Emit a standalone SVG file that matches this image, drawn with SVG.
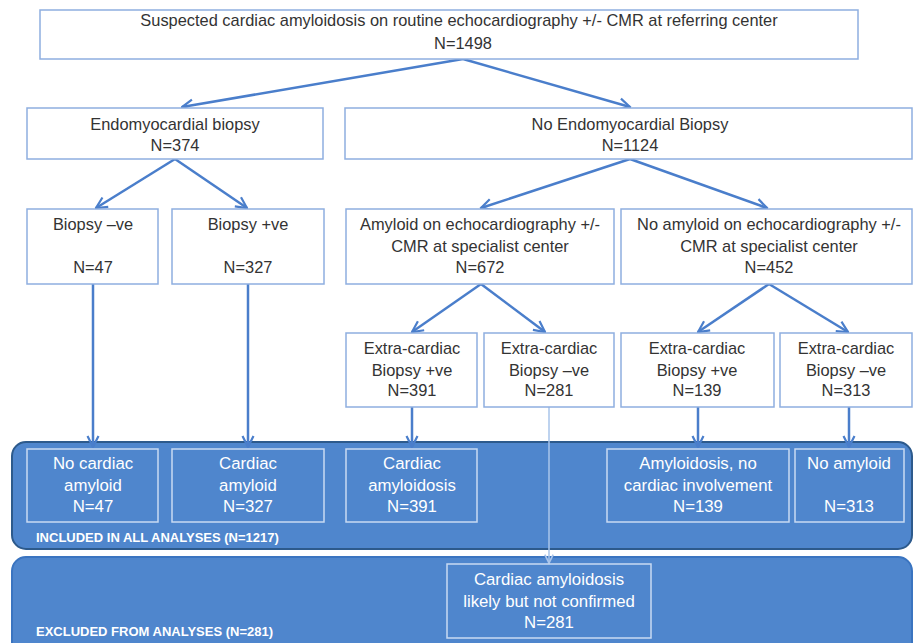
<svg xmlns="http://www.w3.org/2000/svg" width="914" height="643" viewBox="0 0 914 643">
<defs>
<style>
.box{fill:#fff;stroke:#8eaee0;stroke-width:1.5}
.ibox{fill:none;stroke:#c9daf2;stroke-width:1.5}
.t{font-family:"Liberation Sans",Arial,sans-serif;font-size:16.4px;fill:#333;text-anchor:middle}
.tw{font-family:"Liberation Sans",Arial,sans-serif;font-size:16.8px;fill:#fff;text-anchor:middle}
.lbl{font-family:"Liberation Sans",Arial,sans-serif;font-size:13px;font-weight:bold;fill:#fff}
.c{fill:none;stroke:#4a7ecb;stroke-width:2.5}
.cl{fill:none;stroke:#a9c4ea;stroke-width:1.5}
</style>
<marker id="ah" viewBox="0 0 10 10" refX="9" refY="5" markerWidth="5.5" markerHeight="5.5" orient="auto" markerUnits="strokeWidth">
<path d="M1,1 L9,5 L1,9" fill="none" stroke="#4a7ecb" stroke-width="1.6"/>
</marker>
<marker id="ahl" viewBox="0 0 10 10" refX="9" refY="5" markerWidth="7" markerHeight="7" orient="auto" markerUnits="strokeWidth">
<path d="M1,1 L9,5 L1,9" fill="none" stroke="#a9c4ea" stroke-width="1.6"/>
</marker>
</defs>
<rect width="914" height="643" fill="#fff"/>

<g id="band-included">
<rect x="12" y="442" width="900" height="107" rx="14" fill="#4f86cd" stroke="#2d5a8c" stroke-width="2"/>
<text class="lbl" x="36" y="542">INCLUDED IN ALL ANALYSES (N=1217)</text>
</g>
<g id="band-excluded">
<rect x="12" y="557" width="900" height="110" rx="14" fill="#4f86cd" stroke="#3a74c0" stroke-width="2"/>
<text class="lbl" x="36" y="636">EXCLUDED FROM ANALYSES (N=281)</text>
</g>

<g id="connectors">
<line class="c" x1="463" y1="59" x2="182" y2="107" marker-end="url(#ah)"/>
<line class="c" x1="463" y1="59" x2="630" y2="107" marker-end="url(#ah)"/>
<line class="c" x1="175" y1="159" x2="96" y2="208" marker-end="url(#ah)"/>
<line class="c" x1="175" y1="159" x2="247" y2="208" marker-end="url(#ah)"/>
<line class="c" x1="630" y1="159" x2="481" y2="208" marker-end="url(#ah)"/>
<line class="c" x1="630" y1="159" x2="767" y2="208" marker-end="url(#ah)"/>
<line class="c" x1="481" y1="284" x2="412" y2="332" marker-end="url(#ah)"/>
<line class="c" x1="481" y1="284" x2="545" y2="332" marker-end="url(#ah)"/>
<line class="c" x1="769" y1="284" x2="698" y2="332" marker-end="url(#ah)"/>
<line class="c" x1="769" y1="284" x2="848" y2="332" marker-end="url(#ah)"/>
<line class="c" x1="93" y1="284" x2="93" y2="447" marker-end="url(#ah)"/>
<line class="c" x1="248" y1="284" x2="248" y2="447" marker-end="url(#ah)"/>
<line class="c" x1="412" y1="407" x2="412" y2="447" marker-end="url(#ah)"/>
<line class="c" x1="698" y1="407" x2="698" y2="447" marker-end="url(#ah)"/>
<line class="c" x1="849" y1="407" x2="849" y2="447" marker-end="url(#ah)"/>
<line class="cl" x1="549" y1="407" x2="549" y2="563" marker-end="url(#ahl)"/>
</g>

<g id="n-top">
<rect class="box" x="40" y="10" width="818" height="49"/>
<text class="t" x="459" y="26">Suspected cardiac amyloidosis on routine echocardiography +/- CMR at referring center</text>
<text class="t" x="463" y="49">N=1498</text>
</g>
<g id="n-emb">
<rect class="box" x="27" y="108" width="296" height="51"/>
<text class="t" x="175" y="130">Endomyocardial biopsy</text>
<text class="t" x="175" y="151">N=374</text>
</g>
<g id="n-noemb">
<rect class="box" x="345" y="108" width="567" height="51"/>
<text class="t" x="630" y="130">No Endomyocardial Biopsy</text>
<text class="t" x="630" y="151">N=1124</text>
</g>
<g id="n-bneg">
<rect class="box" x="27" y="209" width="131" height="75"/>
<text class="t" x="93" y="230">Biopsy –ve</text>
<text class="t" x="93" y="273">N=47</text>
</g>
<g id="n-bpos">
<rect class="box" x="172" y="209" width="152" height="75"/>
<text class="t" x="248" y="230">Biopsy +ve</text>
<text class="t" x="248" y="273">N=327</text>
</g>
<g id="n-amy">
<rect class="box" x="346" y="209" width="268" height="75"/>
<text class="t" x="480" y="230">Amyloid on echocardiography +/-</text>
<text class="t" x="480" y="252">CMR at specialist center</text>
<text class="t" x="480" y="273">N=672</text>
</g>
<g id="n-noamy">
<rect class="box" x="621" y="209" width="291" height="75"/>
<text class="t" x="769" y="230">No amyloid on echocardiography +/-</text>
<text class="t" x="769" y="252">CMR at specialist center</text>
<text class="t" x="769" y="273">N=452</text>
</g>
<g id="n-ecb1">
<rect class="box" x="346" y="333" width="131" height="74"/>
<text class="t" x="412" y="354">Extra-cardiac</text>
<text class="t" x="412" y="376">Biopsy +ve</text>
<text class="t" x="412" y="396">N=391</text>
</g>
<g id="n-ecb2">
<rect class="box" x="484" y="333" width="130" height="74"/>
<text class="t" x="549" y="354">Extra-cardiac</text>
<text class="t" x="549" y="376">Biopsy –ve</text>
<text class="t" x="549" y="396">N=281</text>
</g>
<g id="n-ecb3">
<rect class="box" x="621" y="333" width="153" height="74"/>
<text class="t" x="697" y="354">Extra-cardiac</text>
<text class="t" x="697" y="376">Biopsy +ve</text>
<text class="t" x="697" y="396">N=139</text>
</g>
<g id="n-ecb4">
<rect class="box" x="780" y="333" width="132" height="74"/>
<text class="t" x="846" y="354">Extra-cardiac</text>
<text class="t" x="846" y="376">Biopsy –ve</text>
<text class="t" x="846" y="396">N=313</text>
</g>

<g id="n-nocard">
<rect class="ibox" x="27" y="449" width="131" height="73"/>
<text class="tw" x="93" y="469">No cardiac</text>
<text class="tw" x="93" y="491">amyloid</text>
<text class="tw" x="93" y="512">N=47</text>
</g>
<g id="n-card">
<rect class="ibox" x="172" y="449" width="152" height="73"/>
<text class="tw" x="248" y="469">Cardiac</text>
<text class="tw" x="248" y="491">amyloid</text>
<text class="tw" x="248" y="512">N=327</text>
</g>
<g id="n-cardamy">
<rect class="ibox" x="346" y="449" width="131" height="73"/>
<text class="tw" x="412" y="469">Cardiac</text>
<text class="tw" x="412" y="491">amyloidosis</text>
<text class="tw" x="412" y="512">N=391</text>
</g>
<g id="n-amynocard">
<rect class="ibox" x="607" y="449" width="182" height="73"/>
<text class="tw" x="698" y="469">Amyloidosis, no</text>
<text class="tw" x="698" y="491">cardiac involvement</text>
<text class="tw" x="698" y="512">N=139</text>
</g>
<g id="n-noamyloid">
<rect class="ibox" x="795" y="449" width="109" height="73"/>
<text class="tw" x="849" y="469">No amyloid</text>
<text class="tw" x="849" y="512">N=313</text>
</g>
<g id="n-likely">
<rect class="ibox" x="447" y="564" width="204" height="74"/>
<text class="tw" x="549" y="585">Cardiac amyloidosis</text>
<text class="tw" x="549" y="607">likely but not confirmed</text>
<text class="tw" x="549" y="628">N=281</text>
</g>
</svg>
